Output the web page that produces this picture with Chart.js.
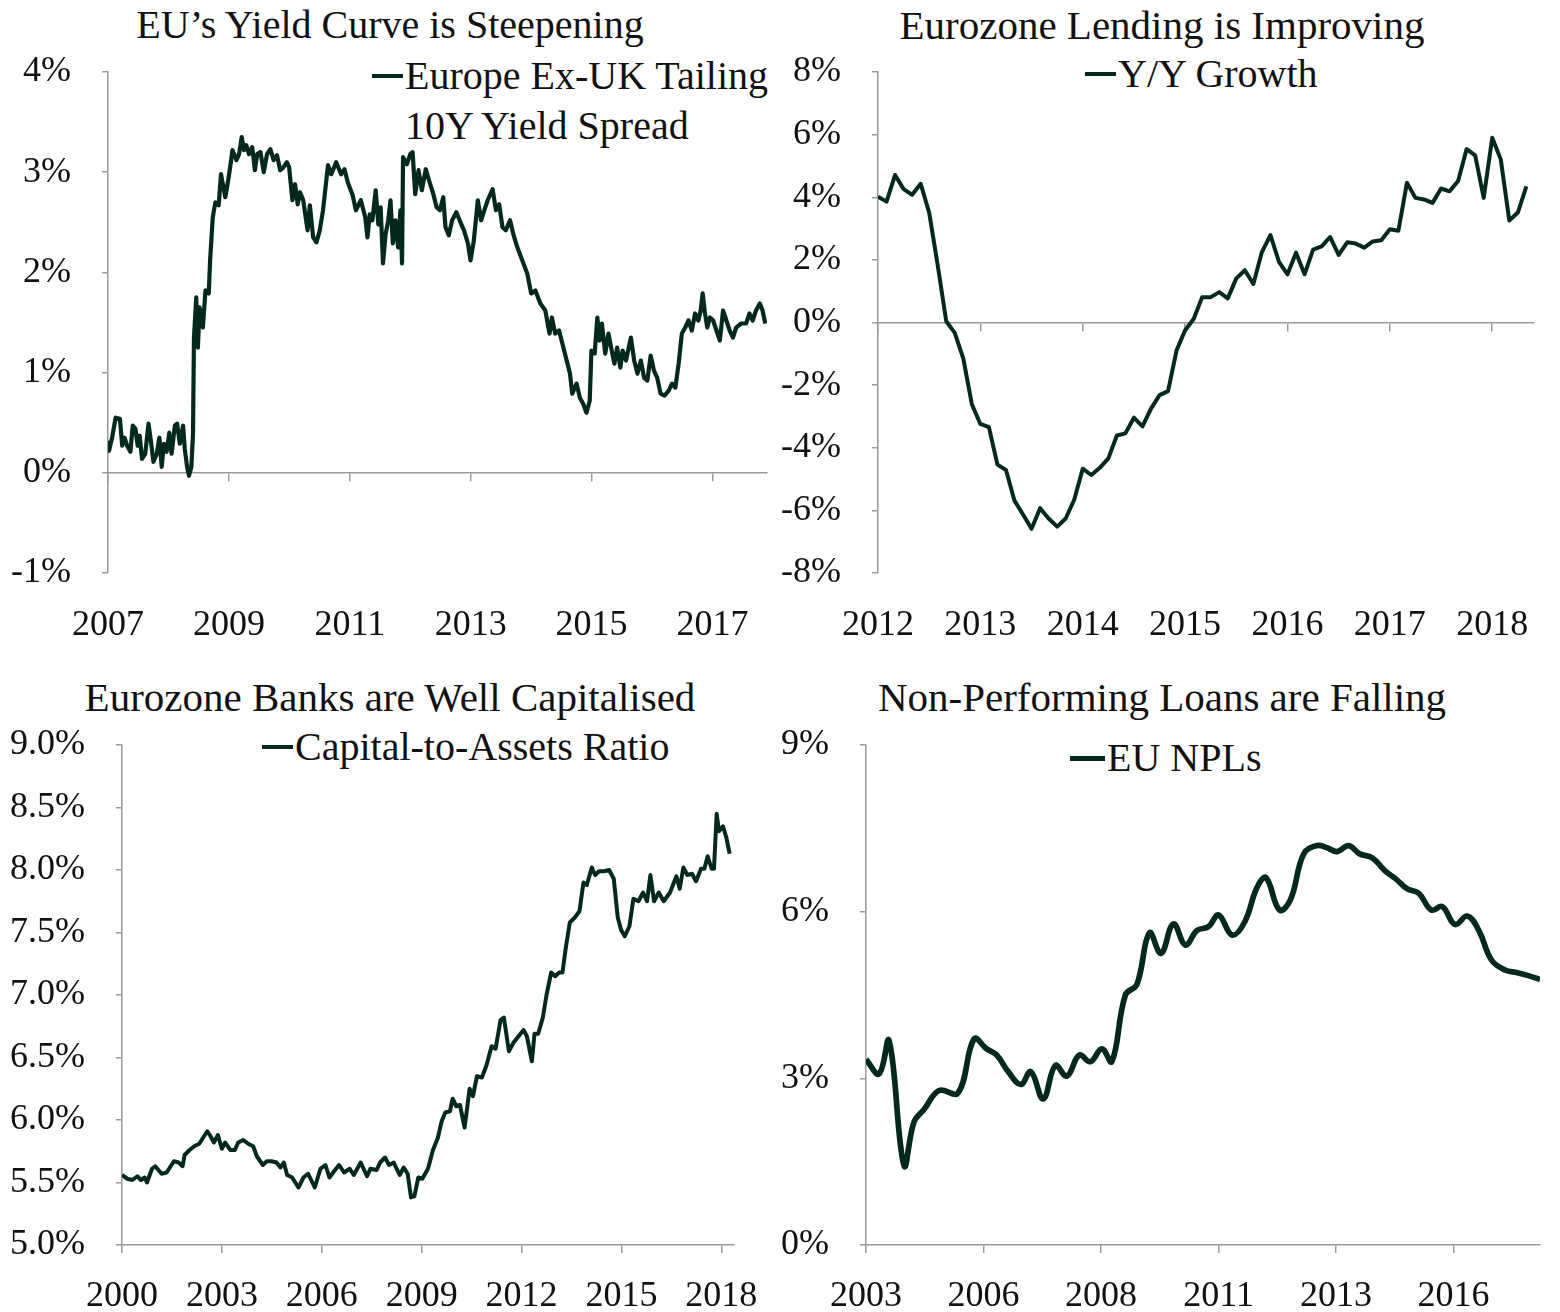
<!DOCTYPE html>
<html>
<head>
<meta charset="utf-8">
<script src="https://cdn.jsdelivr.net/npm/chart.js@4.4.1/dist/chart.umd.min.js"></script>
<style>
  body { margin: 0; background: #fff; width: 1560px; height: 1312px; position: relative; overflow: hidden;
         font-family: 'Liberation Serif', serif; color: #111; }
  canvas { position: absolute; }
  .title { position: absolute; width: 760px; text-align: center; font-size: 41px; line-height: 44px; white-space: nowrap; }
  .leg { position: absolute; font-size: 40px; line-height: 44px; white-space: nowrap; display: flex; align-items: center; }
  .leg i { display: inline-block; width: 31px; height: 4px; background: #03291f; margin-right: 2px; }
</style>
</head>
<body>
<div class="title" style="left:10px;top:3px;font-size:40px">EU’s Yield Curve is Steepening</div>
<div class="title" style="left:782px;top:3px">Eurozone Lending is Improving</div>
<div class="title" style="left:10px;top:675px">Eurozone Banks are Well Capitalised</div>
<div class="title" style="left:782px;top:675px">Non-Performing Loans are Falling</div>

<div class="leg" style="left:372px;top:54px"><i></i>Europe Ex-UK Tailing</div>
<div class="leg" style="left:405px;top:104px">10Y Yield Spread</div>
<div class="leg" style="left:1085px;top:52px"><i></i>Y/Y Growth</div>
<div class="leg" style="left:262px;top:725px"><i></i>Capital-to-Assets Ratio</div>
<div class="leg" style="left:1070px;top:736px"><i style="width:35px;height:5px"></i>EU NPLs</div>

<canvas id="c1" width="780" height="655" style="left:0;top:0"></canvas>
<canvas id="c2" width="780" height="655" style="left:780px;top:0"></canvas>
<canvas id="c3" width="780" height="657" style="left:0;top:655px"></canvas>
<canvas id="c4" width="780" height="657" style="left:780px;top:655px"></canvas>

<script>
const LINE = "#03291f";
const GRAY = "#9a9a9a";
const FONT = "'Liberation Serif', serif";

// Europe ex-UK 10Y yield spread (%)
const spreadDates = [2007.000, 2007.017, 2007.071, 2007.126, 2007.197, 2007.235, 2007.273, 2007.317, 2007.371, 2007.409,
  2007.453, 2007.491, 2007.524, 2007.562, 2007.616, 2007.670, 2007.709, 2007.752, 2007.807, 2007.850,
  2007.888, 2007.926, 2007.970, 2008.014, 2008.052, 2008.106, 2008.144, 2008.188, 2008.242, 2008.270,
  2008.308, 2008.340, 2008.379, 2008.406, 2008.422, 2008.460, 2008.487, 2008.515, 2008.569, 2008.613,
  2008.667, 2008.689, 2008.733, 2008.776, 2008.831, 2008.869, 2008.940, 2008.978, 2009.021, 2009.059,
  2009.125, 2009.168, 2009.212, 2009.250, 2009.288, 2009.332, 2009.386, 2009.430, 2009.468, 2009.522,
  2009.577, 2009.631, 2009.686, 2009.740, 2009.795, 2009.849, 2009.904, 2009.958, 2009.996, 2010.051,
  2010.094, 2010.138, 2010.176, 2010.230, 2010.301, 2010.339, 2010.394, 2010.448, 2010.503, 2010.557,
  2010.639, 2010.693, 2010.775, 2010.856, 2010.912, 2010.966, 2011.047, 2011.101, 2011.183, 2011.255,
  2011.292, 2011.330, 2011.374, 2011.428, 2011.472, 2011.510, 2011.549, 2011.592, 2011.636, 2011.673,
  2011.712, 2011.755, 2011.799, 2011.837, 2011.864, 2011.881, 2011.946, 2012.000, 2012.039, 2012.082,
  2012.137, 2012.191, 2012.257, 2012.310, 2012.382, 2012.436, 2012.490, 2012.546, 2012.583, 2012.637,
  2012.693, 2012.763, 2012.817, 2012.889, 2012.954, 2012.997, 2013.052, 2013.118, 2013.172, 2013.225,
  2013.281, 2013.363, 2013.417, 2013.471, 2013.526, 2013.580, 2013.650, 2013.706, 2013.771, 2013.853,
  2013.935, 2014.000, 2014.070, 2014.152, 2014.234, 2014.304, 2014.343, 2014.397, 2014.462, 2014.533,
  2014.588, 2014.642, 2014.680, 2014.752, 2014.806, 2014.860, 2014.915, 2014.969, 2014.997, 2015.051,
  2015.095, 2015.132, 2015.170, 2015.225, 2015.279, 2015.323, 2015.377, 2015.422, 2015.476, 2015.513,
  2015.569, 2015.650, 2015.704, 2015.758, 2015.814, 2015.868, 2015.922, 2015.977, 2016.031, 2016.085,
  2016.141, 2016.206, 2016.276, 2016.330, 2016.386, 2016.440, 2016.493, 2016.549, 2016.603, 2016.657,
  2016.712, 2016.766, 2016.804, 2016.837, 2016.876, 2016.913, 2016.958, 2017.011, 2017.065, 2017.121,
  2017.175, 2017.229, 2017.284, 2017.338, 2017.392, 2017.474, 2017.556, 2017.611, 2017.665, 2017.719,
  2017.784, 2017.828, 2017.873];
const spreadValues = [0.32, 0.22, 0.36, 0.55, 0.54, 0.27, 0.35, 0.27, 0.21, 0.47,
  0.44, 0.27, 0.37, 0.14, 0.19, 0.49, 0.32, 0.11, 0.19, 0.35,
  0.06, 0.29, 0.21, 0.40, 0.19, 0.47, 0.49, 0.29, 0.47, 0.24,
  0.06, -0.03, 0.06, 0.39, 1.35, 1.75, 1.25, 1.65, 1.45, 1.82,
  1.79, 2.12, 2.55, 2.70, 2.67, 2.98, 2.75, 2.88, 3.05, 3.22,
  3.12, 3.18, 3.35, 3.22, 3.27, 3.18, 3.25, 3.02, 3.18, 3.20,
  3.00, 3.18, 3.23, 3.12, 3.17, 3.02, 3.05, 3.10, 3.05, 2.72,
  2.88, 2.68, 2.80, 2.72, 2.42, 2.67, 2.35, 2.30, 2.42, 2.62,
  3.07, 2.98, 3.10, 2.98, 3.03, 2.90, 2.77, 2.62, 2.72, 2.55,
  2.35, 2.58, 2.52, 2.82, 2.48, 2.65, 2.09, 2.38, 2.52, 2.72,
  2.29, 2.52, 2.25, 2.62, 2.09, 3.15, 3.08, 3.18, 3.20, 2.78,
  3.02, 2.82, 3.03, 2.92, 2.78, 2.65, 2.62, 2.75, 2.45, 2.37,
  2.52, 2.60, 2.52, 2.42, 2.29, 2.12, 2.32, 2.72, 2.52, 2.62,
  2.72, 2.83, 2.62, 2.68, 2.45, 2.42, 2.52, 2.38, 2.25, 2.12,
  1.99, 1.79, 1.82, 1.69, 1.62, 1.39, 1.55, 1.39, 1.42, 1.25,
  1.12, 0.99, 0.79, 0.89, 0.75, 0.69, 0.60, 0.72, 1.22, 1.19,
  1.55, 1.32, 1.49, 1.19, 1.39, 1.25, 1.09, 1.25, 1.05, 1.22,
  1.12, 1.35, 1.12, 0.99, 1.12, 0.95, 0.92, 1.17, 1.02, 0.95,
  0.79, 0.77, 0.82, 0.89, 0.85, 1.09, 1.39, 1.45, 1.52, 1.42,
  1.59, 1.52, 1.62, 1.79, 1.59, 1.45, 1.55, 1.52, 1.42, 1.32,
  1.62, 1.52, 1.42, 1.35, 1.45, 1.49, 1.49, 1.59, 1.52, 1.62,
  1.69, 1.62, 1.49];
const spreadYears = [2007, 2009, 2011, 2013, 2015, 2017];

// Eurozone lending, Y/Y growth (%), monthly from Jan 2012
const lendingStart = 2012;
const lendingValues = [4.02, 3.86, 4.71, 4.26, 4.08, 4.43, 3.51, 1.83, 0.04, -0.33,
  -1.15, -2.61, -3.24, -3.34, -4.54, -4.71, -5.69, -6.13, -6.59, -5.93,
  -6.26, -6.52, -6.26, -5.66, -4.67, -4.87, -4.64, -4.34, -3.61, -3.54,
  -3.04, -3.32, -2.75, -2.32, -2.19, -0.89, -0.25, 0.11, 0.81, 0.81,
  0.97, 0.77, 1.41, 1.67, 1.23, 2.25, 2.79, 1.94, 1.54, 2.23,
  1.54, 2.33, 2.43, 2.73, 2.16, 2.56, 2.52, 2.39, 2.59, 2.63,
  2.98, 2.93, 4.46, 3.98, 3.93, 3.82, 4.28, 4.19, 4.52, 5.54,
  5.34, 3.98, 5.90, 5.21, 3.26, 3.51, 4.35];
const lendingYears = [2012, 2013, 2014, 2015, 2016, 2017, 2018];

// Eurozone banks capital-to-assets ratio (%)
const capitalDates = [2000.00, 2000.16, 2000.31, 2000.46, 2000.57, 2000.68, 2000.75, 2000.90, 2001.00, 2001.19,
  2001.34, 2001.56, 2001.70, 2001.82, 2001.88, 2002.03, 2002.17, 2002.32, 2002.44, 2002.56,
  2002.66, 2002.76, 2002.88, 2003.00, 2003.10, 2003.25, 2003.39, 2003.49, 2003.64, 2003.79,
  2003.94, 2004.05, 2004.23, 2004.35, 2004.49, 2004.64, 2004.76, 2004.86, 2004.96, 2005.11,
  2005.30, 2005.45, 2005.59, 2005.79, 2005.96, 2006.11, 2006.23, 2006.37, 2006.52, 2006.67,
  2006.84, 2006.96, 2007.17, 2007.36, 2007.46, 2007.65, 2007.75, 2007.90, 2008.02, 2008.16,
  2008.34, 2008.46, 2008.58, 2008.68, 2008.78, 2008.90, 2009.02, 2009.19, 2009.34, 2009.49,
  2009.60, 2009.71, 2009.85, 2009.93, 2010.04, 2010.15, 2010.29, 2010.44, 2010.54, 2010.66,
  2010.81, 2010.95, 2011.10, 2011.22, 2011.37, 2011.47, 2011.62, 2011.76, 2011.91, 2012.06,
  2012.16, 2012.31, 2012.39, 2012.50, 2012.64, 2012.75, 2012.89, 2013.01, 2013.13, 2013.23,
  2013.33, 2013.45, 2013.60, 2013.74, 2013.86, 2013.96, 2014.11, 2014.21, 2014.33, 2014.48,
  2014.63, 2014.77, 2014.89, 2014.99, 2015.10, 2015.24, 2015.36, 2015.51, 2015.65, 2015.77,
  2015.87, 2015.98, 2016.12, 2016.27, 2016.46, 2016.65, 2016.75, 2016.86, 2016.98, 2017.12,
  2017.24, 2017.39, 2017.49, 2017.59, 2017.71, 2017.78, 2017.86, 2017.93, 2018.05, 2018.15,
  2018.25];
const capitalValues = [5.56, 5.53, 5.52, 5.55, 5.52, 5.54, 5.50, 5.61, 5.63, 5.57,
  5.58, 5.67, 5.66, 5.63, 5.72, 5.76, 5.79, 5.81, 5.86, 5.91,
  5.87, 5.82, 5.88, 5.77, 5.82, 5.76, 5.76, 5.82, 5.84, 5.81,
  5.79, 5.71, 5.64, 5.67, 5.67, 5.66, 5.62, 5.66, 5.56, 5.54,
  5.46, 5.54, 5.57, 5.46, 5.61, 5.64, 5.54, 5.59, 5.64, 5.58,
  5.61, 5.56, 5.66, 5.55, 5.61, 5.60, 5.66, 5.70, 5.64, 5.66,
  5.56, 5.62, 5.57, 5.38, 5.39, 5.54, 5.53, 5.61, 5.76, 5.86,
  5.99, 6.06, 6.07, 6.17, 6.11, 6.12, 5.94, 6.25, 6.19, 6.35,
  6.34, 6.44, 6.59, 6.57, 6.80, 6.82, 6.55, 6.62, 6.67, 6.72,
  6.67, 6.47, 6.69, 6.69, 6.82, 7.00, 7.18, 7.15, 7.18, 7.18,
  7.38, 7.58, 7.62, 7.67, 7.90, 7.88, 8.02, 7.96, 7.99, 7.99,
  8.00, 7.93, 7.62, 7.52, 7.47, 7.55, 7.77, 7.75, 7.82, 7.75,
  7.96, 7.75, 7.82, 7.75, 7.82, 7.95, 7.85, 8.02, 7.96, 7.97,
  7.91, 8.01, 8.01, 8.11, 8.01, 8.01, 8.45, 8.31, 8.35, 8.26,
  8.13];
const capitalYears = [2000, 2003, 2006, 2009, 2012, 2015, 2018];

// EU non-performing loans (%), position along the quarterly axis
const nplPeriods = [0.00, 1.11, 1.96, 3.24, 4.09, 4.94, 6.22, 7.84, 9.20, 10.27,
  11.12, 12.10, 13.17, 14.02, 15.08, 16.11, 17.09, 18.15, 19.09, 20.07,
  20.92, 22.07, 23.05, 24.12, 25.10, 26.16, 27.18, 28.16, 29.14, 30.00,
  31.15, 32.21, 33.28, 34.04, 35.19, 36.13, 37.24, 38.39, 39.24, 40.09,
  41.07, 42.01, 43.08, 44.14, 45.08, 46.06, 47.04, 48.10, 49.04, 50.11,
  51.17, 52.15, 53.22, 54.37, 55.43, 56.50, 57.35];
const nplValues = [3.34, 3.08, 3.68, 1.43, 2.22, 2.44, 2.78, 2.74, 3.71, 3.53,
  3.42, 3.12, 2.89, 3.12, 2.63, 3.23, 3.04, 3.42, 3.30, 3.53,
  3.30, 4.50, 4.69, 5.62, 5.25, 5.78, 5.40, 5.66, 5.73, 5.94,
  5.58, 5.81, 6.44, 6.61, 6.03, 6.22, 7.04, 7.19, 7.15, 7.08,
  7.19, 7.04, 6.97, 6.74, 6.59, 6.41, 6.33, 6.03, 6.09, 5.77,
  5.92, 5.66, 5.13, 4.95, 4.90, 4.84, 4.78];
const nplTickPos = [0, 10, 20, 30, 40, 50];
const nplTickLabels = ["2003", "2006", "2008", "2011", "2013", "2016"];

function tickFont() {
  return { family: FONT, size: 36 };
}

function makeChart(id, cfg) {
  const points = cfg.xs.map((x, i) => ({ x: x, y: cfg.ys[i] }));
  const setTicks = (s) => { s.ticks = cfg.xTicks.map((v) => ({ value: v })); };
  const scales = {
    y: {
      min: cfg.yMin,
      max: cfg.yMax,
      ticks: { stepSize: cfg.yStep, color: "#111", font: tickFont(), padding: 31,
               callback: cfg.yFmt },
      grid: { drawOnChartArea: false, tickLength: 6, color: GRAY, lineWidth: 1.5 },
      border: { color: GRAY, width: 1.5 },
      afterFit: (s) => { s.width = cfg.axisW; },
    },
    x: {
      type: "linear",
      position: "bottom",
      min: cfg.xMin,
      max: cfg.xMax,
      afterBuildTicks: setTicks,
      ticks: { color: "#111", font: tickFont(), padding: cfg.labelPad, autoSkip: false,
               maxRotation: 0, callback: cfg.xFmt },
      grid: cfg.zeroAxis ? { display: false, drawTicks: false }
                         : { drawOnChartArea: false, tickLength: 8, color: GRAY, lineWidth: 1.5 },
      border: cfg.zeroAxis ? { display: false } : { color: GRAY, width: 1.5 },
      afterFit: (s) => { s.height = cfg.axisH; },
    },
  };
  if (cfg.zeroAxis) {
    // horizontal axis line at 0% with its tick marks, labels stay at the bottom
    scales.x0 = {
      type: "linear",
      position: { y: 0 },
      min: cfg.xMin,
      max: cfg.xMax,
      afterBuildTicks: setTicks,
      ticks: { display: false },
      grid: { drawOnChartArea: false, tickLength: 8, color: GRAY, lineWidth: 1.5 },
      border: { color: GRAY, width: 1.5 },
    };
  }
  return new Chart(document.getElementById(id), {
    type: "line",
    data: {
      datasets: [{
        data: points,
        borderColor: LINE,
        borderWidth: cfg.lw,
        borderJoinStyle: "round",
        pointRadius: 0,
        tension: cfg.tension,
        fill: false,
      }],
    },
    options: {
      responsive: false,
      animation: false,
      layout: { padding: { top: cfg.padTop, right: cfg.padRight, left: 0, bottom: 0 } },
      plugins: { legend: { display: false }, tooltip: { enabled: false } },
      scales: scales,
    },
  });
}

const pct = (v) => v + "%";

makeChart("c1", {
  xs: spreadDates, ys: spreadValues, xMin: 2007, xMax: 2017.9, xTicks: spreadYears,
  xFmt: (v) => String(v), yMin: -1, yMax: 4, yStep: 1, yFmt: pct,
  axisW: 108, axisH: 82, padTop: 72, padRight: 6, labelPad: 31, zeroAxis: true,
  lw: 4.2, tension: 0,
});

makeChart("c2", {
  xs: lendingValues.map((v, i) => lendingStart + i / 12), ys: lendingValues,
  xMin: 2012, xMax: 2018.41, xTicks: lendingYears,
  xFmt: (v) => String(v), yMin: -8, yMax: 8, yStep: 2, yFmt: pct,
  axisW: 98, axisH: 82, padTop: 72, padRight: 12, labelPad: 31, zeroAxis: true,
  lw: 4, tension: 0,
});

makeChart("c3", {
  xs: capitalDates, ys: capitalValues, xMin: 2000, xMax: 2018.37, xTicks: capitalYears,
  xFmt: (v) => String(v), yMin: 5, yMax: 9, yStep: 0.5, yFmt: (v) => v.toFixed(1) + "%",
  axisW: 122, axisH: 67, padTop: 90, padRight: 34, labelPad: 22, zeroAxis: false,
  lw: 4, tension: 0,
});

makeChart("c4", {
  xs: nplPeriods, ys: nplValues, xMin: 0, xMax: 57.35, xTicks: nplTickPos,
  xFmt: (v) => nplTickLabels[nplTickPos.indexOf(v)], yMin: 0, yMax: 9, yStep: 3, yFmt: pct,
  axisW: 86, axisH: 67, padTop: 90, padRight: 20, labelPad: 22, zeroAxis: false,
  lw: 5.7, tension: 0.4,
});
</script>
</body>
</html>
